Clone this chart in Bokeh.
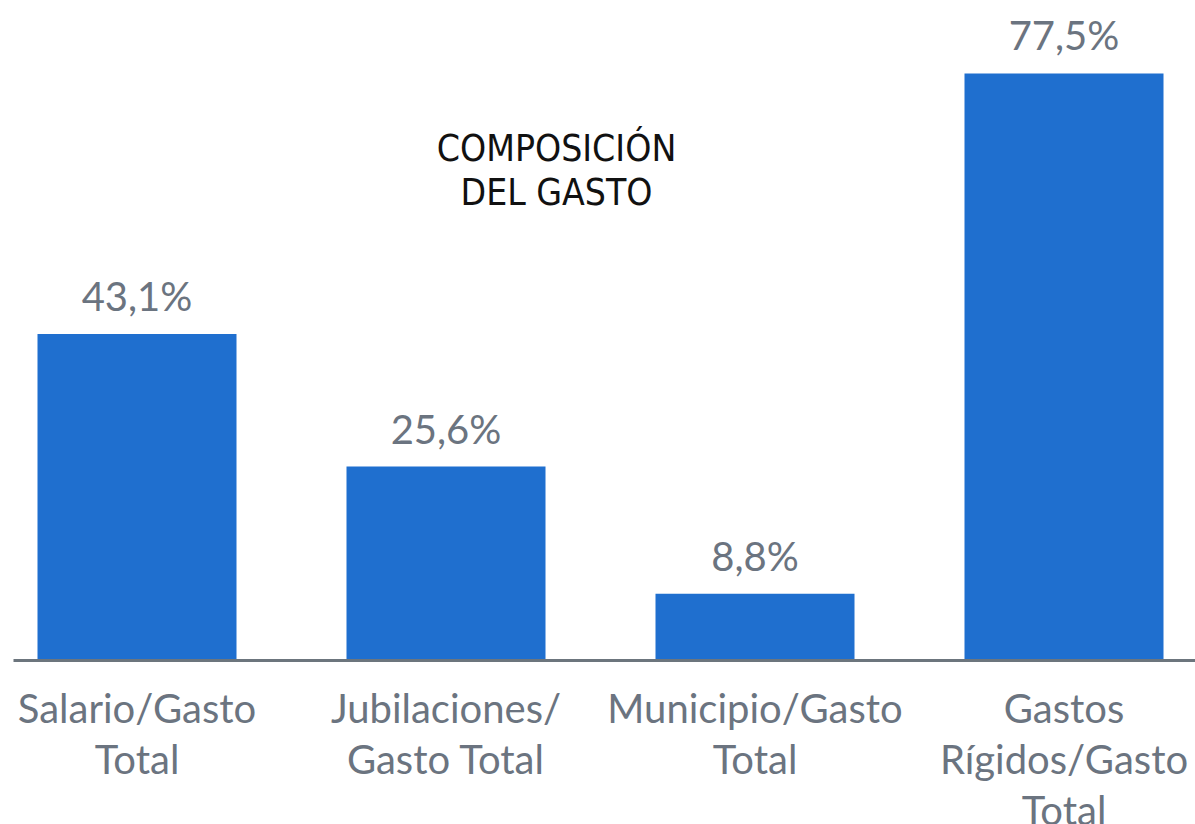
from bokeh.plotting import figure
from bokeh.models import Range1d, ColumnDataSource
from bokeh.core.properties import value
from bokeh.embed import file_html
from bokeh.resources import INLINE

categories = ["Salario/Gasto\nTotal", "Jubilaciones/\nGasto Total",
              "Municipio/Gasto\nTotal", "Gastos\nRígidos/Gasto\nTotal"]
values = [43.1, 25.6, 8.8, 77.5]
title_lines = ["COMPOSICIÓN", "DEL GASTO"]

W, H = 1195, 824
step = 309.0          # px per category
x0 = 0.5 - 136.5 / step
ppu = 7.575           # px per percentage point
base_px = 660
y0 = -(H - base_px) / ppu
y1 = base_px / ppu

p = figure(width=W, height=H, output_backend="svg", toolbar_location=None,
           x_range=Range1d(x0, x0 + W / step), y_range=Range1d(y0, y1),
           min_border=0, outline_line_color=None)
p.axis.visible = False
p.grid.visible = False
p.background_fill_color = "white"
p.border_fill_color = "white"

xs = [i + 0.5 for i in range(len(values))]
src = ColumnDataSource(dict(x=xs, top=values,
                            lab=[f"{v:.1f}%".replace(".", ",") for v in values],
                            cat=categories))

p.vbar(x="x", top="top", bottom=0, width=199 / step, source=src,
       fill_color="#1f6fcf", line_color=None)

# baseline
p.segment(x0=[x0 + 13 / step], x1=[x0 + W / step], y0=[0], y1=[0],
          line_color="#6c757d", line_width=3)

gray = "#6b7480"
p.text(x="x", y="top", text="lab", source=src, text_align="center",
       text_baseline="alphabetic", y_offset=-38,
       text_font=value("Lato"), text_font_size="40px", text_color=gray)

p.text(x="x", y=0, text="cat", source=src, text_align="center",
       text_baseline="top", y_offset=23, text_line_height=1.065,
       text_font=value("Lato"), text_font_size="40px", text_color=gray)

tx = x0 + 556 / step
p.text(x=[tx, tx], y=[(base_px - 148) / ppu, (base_px - 192) / ppu], text=title_lines,
       text_align="center", text_baseline="alphabetic",
       text_font=value("DejaVu Sans Condensed"), text_font_size="37px",
       text_color="#111111")

open("out.html", "w").write(file_html(p, INLINE))
